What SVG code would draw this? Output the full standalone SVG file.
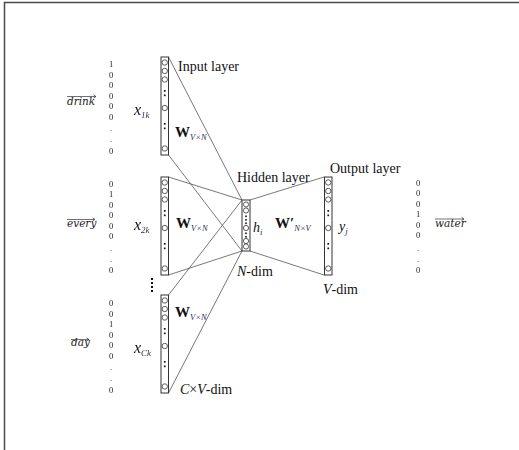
<svg xmlns="http://www.w3.org/2000/svg" xmlns:xlink="http://www.w3.org/1999/xlink" width="519" height="450" viewBox="0 0 519 450">
  <style>
    .frame { fill: none; stroke: #4a4a4a; stroke-width: 1.5; }
    .col { fill: #fff; stroke: #333; stroke-width: 1; }
    .unit { fill: #fff; stroke: #333; stroke-width: 0.8; }
    .dot { fill: #111; }
    .edge { stroke: #555; stroke-width: 0.8; fill: none; }
    .lbl { font-family: "Liberation Serif", "Times New Roman", serif; font-size: 14px; fill: #111; }
    .it { font-style: italic; }
    .bw { font-family: "Liberation Serif", "Times New Roman", serif; font-size: 15px; font-weight: bold; fill: #111; }
    .sub { font-family: "Liberation Serif", "Times New Roman", serif; font-size: 8.5px; font-style: italic; font-weight: normal; fill: #2a3052; }
    .xs { font-family: "Liberation Serif", "Times New Roman", serif; font-size: 16px; font-style: italic; fill: #111; }
    .xsub { font-size: 9px; fill: #2a3052; }
    .bit { font-family: "Liberation Serif", "Times New Roman", serif; font-size: 8.5px; fill: #222; text-anchor: middle; }
    .word { font-family: "DejaVu Serif", serif; font-size: 10.5px; font-style: italic; fill: #222; }
    .vec { stroke: #333; stroke-width: 0.7; fill: none; }
  </style>
  <defs>
    <!-- grayscale text rendering for the small labels -->
    <filter id="flat" x="0" y="0" width="1" height="1" filterUnits="objectBoundingBox">
      <feOffset dx="0" dy="0"/>
    </filter>
    <!-- one layer column of units: 98 tall, 7 wide -->
    <g id="layer-col">
      <rect class="col" x="0" y="0" width="7.5" height="98"/>
      <circle class="unit" cx="3.75" cy="5.5" r="2.7"/>
      <circle class="unit" cx="3.75" cy="14" r="2.7"/>
      <circle class="unit" cx="3.75" cy="22.5" r="2.7"/>
      <rect class="dot" x="2.9" y="33" width="1.7" height="1.7"/>
      <rect class="dot" x="2.9" y="37.5" width="1.7" height="1.7"/>
      <circle class="unit" cx="3.75" cy="51" r="2.7"/>
      <rect class="dot" x="2.9" y="66" width="1.7" height="1.7"/>
      <rect class="dot" x="2.9" y="70.5" width="1.7" height="1.7"/>
      <circle class="unit" cx="3.75" cy="91.5" r="2.7"/>
    </g>
    <!-- small vector arrow drawn over a word -->
    <path id="arrow-tip" d="M-2.5,-1.6 L0,0 L-2.5,1.6" class="vec"/>
  </defs>

  <!-- page frame -->
  <path class="frame" d="M4.5,450 L4.5,2.5 L519,2.5"/>

  <!-- connectors -->
  <g id="connectors">
    <line class="edge" x1="168.5" y1="57" x2="242" y2="200"/>
    <line class="edge" x1="168.5" y1="155" x2="242" y2="251"/>
    <line class="edge" x1="168.5" y1="177" x2="242" y2="200"/>
    <line class="edge" x1="168.5" y1="275" x2="242" y2="251"/>
    <line class="edge" x1="168.5" y1="295" x2="242" y2="200"/>
    <line class="edge" x1="168.5" y1="393" x2="242" y2="251"/>
    <line class="edge" x1="250" y1="200" x2="324" y2="177"/>
    <line class="edge" x1="250" y1="251" x2="324" y2="275"/>
  </g>

  <!-- input context word 1 -->
  <g id="input-1">
    <use xlink:href="#layer-col" x="161" y="57"/>
    <text class="lbl" x="178" y="71">Input layer</text>
    <text class="bw" x="175" y="137">W<tspan class="sub" dy="3">V×N</tspan></text>
    <text class="xs" x="134" y="115" filter="url(#flat)">x<tspan class="xsub" dy="3">1k</tspan></text>
  </g>

  <!-- input context word 2 -->
  <g id="input-2">
    <use xlink:href="#layer-col" x="161" y="177"/>
    <text class="bw" x="176" y="228">W<tspan class="sub" dy="3">V×N</tspan></text>
    <text class="xs" x="134" y="230" filter="url(#flat)">x<tspan class="xsub" dy="3">2k</tspan></text>
  </g>

  <!-- ellipsis between context words -->
  <g id="context-gap">
    <rect class="dot" x="151" y="278" width="2" height="2"/>
    <rect class="dot" x="151" y="282" width="2" height="2"/>
    <rect class="dot" x="151" y="286" width="2" height="2"/>
    <rect class="dot" x="151" y="290" width="2" height="2"/>
  </g>

  <!-- input context word C -->
  <g id="input-c">
    <use xlink:href="#layer-col" x="161" y="295"/>
    <text class="bw" x="175" y="317">W<tspan class="sub" dy="3">V×N</tspan></text>
    <text class="xs" x="134" y="353" filter="url(#flat)">x<tspan class="xsub" dy="3">Ck</tspan></text>
    <text class="lbl" x="180" y="394"><tspan class="it">C</tspan>×<tspan class="it">V</tspan>-dim</text>
  </g>

  <!-- hidden layer -->
  <g id="hidden">
    <rect class="col" x="242" y="200" width="8" height="51"/>
    <circle class="unit" cx="246" cy="204.5" r="2.6"/>
    <circle class="unit" cx="246" cy="210.5" r="2.6"/>
    <rect class="dot" x="245.2" y="215.5" width="1.6" height="1.6"/>
    <rect class="dot" x="245.2" y="219" width="1.6" height="1.6"/>
    <rect class="dot" x="245.2" y="222.5" width="1.6" height="1.6"/>
    <circle class="unit" cx="246" cy="228" r="2.6"/>
    <rect class="dot" x="245.2" y="232.5" width="1.6" height="1.6"/>
    <rect class="dot" x="245.2" y="236" width="1.6" height="1.6"/>
    <circle class="unit" cx="246" cy="241" r="2.6"/>
    <circle class="unit" cx="246" cy="246.5" r="2.6"/>
    <text class="lbl it" x="253" y="232">h<tspan class="xsub" dy="3" font-size="9">i</tspan></text>
    <text class="lbl" x="237" y="182">Hidden layer</text>
    <text class="lbl" x="237" y="276"><tspan class="it">N</tspan>-dim</text>
    <text class="bw" x="275" y="228">W′<tspan class="sub" dy="3">N×V</tspan></text>
  </g>

  <!-- output layer -->
  <g id="output">
    <use xlink:href="#layer-col" x="324.5" y="177"/>
    <text class="lbl" x="330" y="173">Output layer</text>
    <text class="lbl it" x="339" y="231">y<tspan class="xsub" dy="3" font-size="9">j</tspan></text>
    <text class="lbl" x="323" y="294"><tspan class="it">V</tspan>-dim</text>
  </g>

  <!-- one-hot vectors -->
  <g id="onehot-drink" filter="url(#flat)">
    <text class="bit" x="111" y="67">1</text>
    <text class="bit" x="111" y="77.5">0</text>
    <text class="bit" x="111" y="88">0</text>
    <text class="bit" x="111" y="98.5">0</text>
    <text class="bit" x="111" y="109">0</text>
    <text class="bit" x="111" y="119.5">0</text>
    <text class="bit" x="111" y="131">.</text>
    <text class="bit" x="111" y="142">.</text>
    <text class="bit" x="111" y="154">0</text>
  </g>
  <g id="word-drink">
    <text class="word" x="67" y="105">drink</text>
    <line class="vec" x1="67" y1="96.5" x2="96" y2="96.5"/>
    <use xlink:href="#arrow-tip" x="96" y="96.5"/>
  </g>

  <g id="onehot-every" filter="url(#flat)">
    <text class="bit" x="111" y="186.5">0</text>
    <text class="bit" x="111" y="197">1</text>
    <text class="bit" x="111" y="207.5">0</text>
    <text class="bit" x="111" y="218">0</text>
    <text class="bit" x="111" y="228.5">0</text>
    <text class="bit" x="111" y="239">0</text>
    <text class="bit" x="111" y="250.5">.</text>
    <text class="bit" x="111" y="261.5">.</text>
    <text class="bit" x="111" y="273">0</text>
  </g>
  <g id="word-every">
    <text class="word" x="67" y="227">every</text>
    <line class="vec" x1="67" y1="219.5" x2="95" y2="219.5"/>
    <use xlink:href="#arrow-tip" x="95" y="219.5"/>
  </g>

  <g id="onehot-day" filter="url(#flat)">
    <text class="bit" x="111" y="306">0</text>
    <text class="bit" x="111" y="316.5">0</text>
    <text class="bit" x="111" y="327">1</text>
    <text class="bit" x="111" y="337.5">0</text>
    <text class="bit" x="111" y="348">0</text>
    <text class="bit" x="111" y="358.5">0</text>
    <text class="bit" x="111" y="370">.</text>
    <text class="bit" x="111" y="381">.</text>
    <text class="bit" x="111" y="393">0</text>
  </g>
  <g id="word-day">
    <text class="word" x="71" y="346">day</text>
    <line class="vec" x1="71" y1="339.5" x2="89" y2="339.5"/>
    <use xlink:href="#arrow-tip" x="89" y="339.5"/>
  </g>

  <g id="onehot-water" filter="url(#flat)">
    <text class="bit" x="418" y="185.5">0</text>
    <text class="bit" x="418" y="196">0</text>
    <text class="bit" x="418" y="206.5">0</text>
    <text class="bit" x="418" y="217">1</text>
    <text class="bit" x="418" y="227.5">0</text>
    <text class="bit" x="418" y="238">0</text>
    <text class="bit" x="418" y="250.5">.</text>
    <text class="bit" x="418" y="261.5">.</text>
    <text class="bit" x="418" y="273">0</text>
  </g>
  <g id="word-water">
    <text class="word" x="435" y="227">water</text>
    <line class="vec" x1="435" y1="219" x2="464" y2="219"/>
    <use xlink:href="#arrow-tip" x="464" y="219"/>
  </g>
</svg>
